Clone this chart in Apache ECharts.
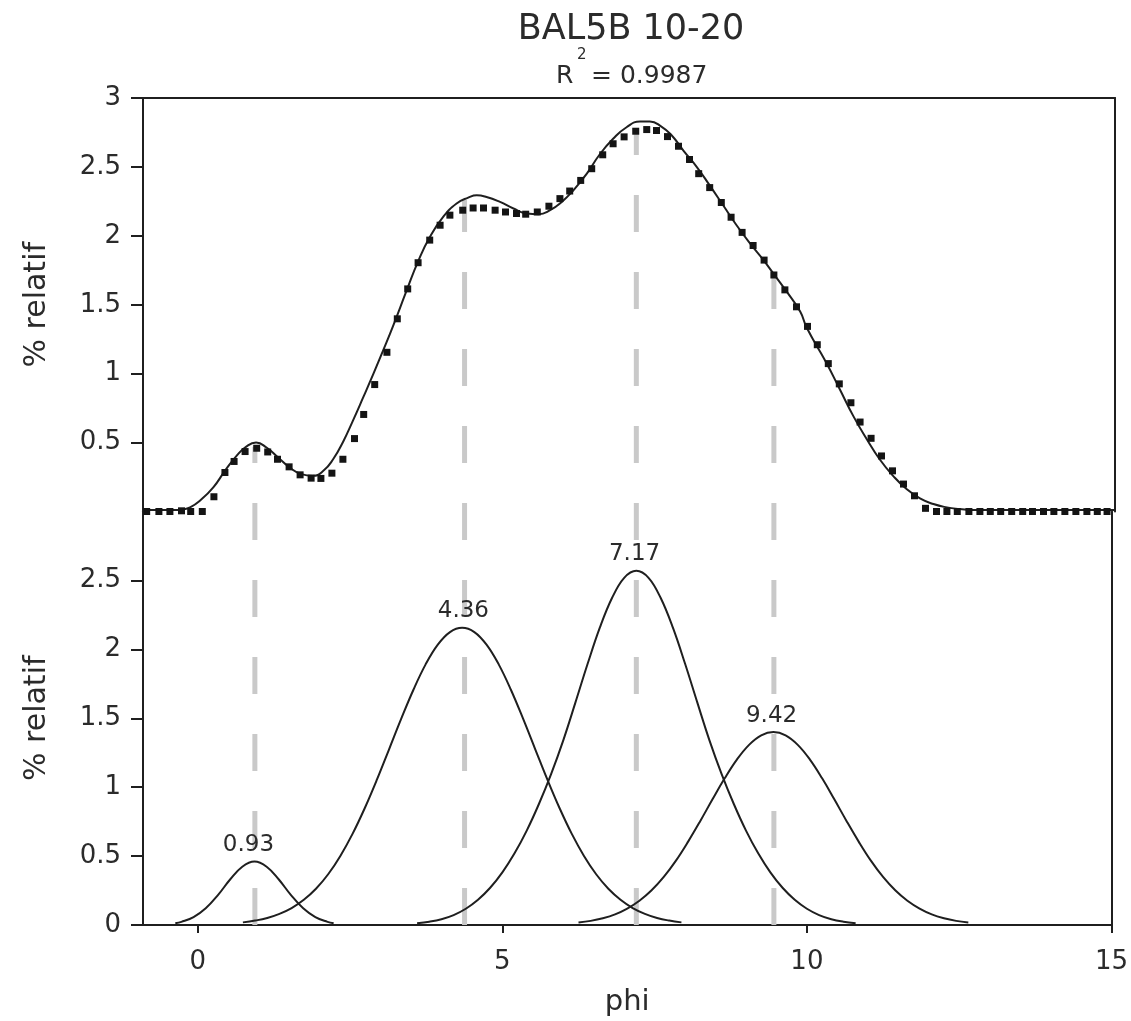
<!DOCTYPE html>
<html>
<head>
<meta charset="utf-8">
<script src="https://cdn.jsdelivr.net/npm/echarts@6/dist/echarts.min.js"></script>
<style>
html,body{margin:0;padding:0;background:#ffffff;}
#chart{width:1131px;height:1021px;}
</style>
</head>
<body>
<div id="chart"></div>
<script>
// ---------------- data ----------------
const chartTitle = 'BAL5B 10-20';
const r2Value = '0.9987';
const xAxisName = 'phi';
const yAxisName = '% relatif';
const xTicks = [0, 5, 10, 15];
const topTicks = [0.5, 1, 1.5, 2, 2.5, 3];
const bottomTicks = [0, 0.5, 1, 1.5, 2, 2.5];

// measured distribution (square markers, top panel)
const measuredX = [-0.84,-0.64,-0.46,-0.27,-0.12,0.07,0.26,0.44,0.59,0.77,0.96,1.14,1.30,1.49,1.67,1.85,2.01,2.19,2.37,2.56,2.71,2.89,3.09,3.26,3.43,3.60,3.79,3.96,4.12,4.33,4.50,4.67,4.86,5.03,5.21,5.36,5.55,5.74,5.92,6.08,6.26,6.44,6.62,6.79,6.97,7.16,7.34,7.50,7.68,7.86,8.04,8.19,8.37,8.56,8.72,8.90,9.08,9.26,9.42,9.60,9.79,9.97,10.13,10.31,10.49,10.68,10.83,11.01,11.18,11.36,11.54,11.72,11.90,12.08,12.25,12.42,12.61,12.79,12.96,13.13,13.31,13.49,13.65,13.83,14.00,14.18,14.36,14.54,14.71,14.87];
const measuredY = [0,0,0,0.005,0,0,0.107,0.283,0.363,0.435,0.459,0.432,0.379,0.324,0.266,0.242,0.240,0.278,0.379,0.529,0.704,0.921,1.155,1.398,1.615,1.805,1.969,2.077,2.150,2.186,2.202,2.202,2.186,2.173,2.162,2.157,2.173,2.215,2.270,2.325,2.402,2.487,2.588,2.668,2.718,2.759,2.771,2.764,2.720,2.650,2.554,2.451,2.350,2.242,2.135,2.025,1.930,1.824,1.716,1.608,1.485,1.343,1.210,1.073,0.926,0.789,0.649,0.531,0.403,0.295,0.199,0.114,0.023,0,0,0,0,0,0,0,0,0,0,0,0,0,0,0,0,0];

// fitted sum curve (top panel)
const fitX = [-0.9,-0.4,-0.25,-0.13,0.03,0.25,0.44,0.63,0.79,0.95,1.12,1.31,1.50,1.69,1.88,2.05,2.21,2.38,2.54,2.70,2.87,3.03,3.19,3.41,3.60,3.79,4.01,4.23,4.42,4.56,4.72,4.94,5.16,5.38,5.57,5.76,5.95,6.14,6.36,6.57,6.79,7.01,7.23,7.39,7.58,7.75,7.94,8.16,8.37,8.59,8.81,9.03,9.25,9.41,9.63,9.85,9.96,10.28,10.50,10.72,10.94,11.15,11.37,11.59,11.81,12.03,12.25,12.46,12.68,15];
const fitY = [0.01,0.01,0.015,0.03,0.078,0.175,0.295,0.403,0.471,0.500,0.464,0.392,0.319,0.271,0.259,0.295,0.379,0.512,0.665,0.826,1.000,1.170,1.345,1.600,1.815,1.990,2.137,2.234,2.277,2.294,2.282,2.246,2.198,2.162,2.157,2.186,2.246,2.330,2.451,2.590,2.704,2.788,2.829,2.829,2.793,2.728,2.619,2.499,2.366,2.222,2.077,1.945,1.824,1.728,1.595,1.451,1.331,1.078,0.885,0.692,0.524,0.379,0.259,0.163,0.095,0.054,0.030,0.018,0.010,0.01];

// decomposed components (bottom panel)
const comp1X = [-0.37,-0.27,-0.07,0.13,0.33,0.53,0.73,0.93,1.13,1.33,1.53,1.73,1.93,2.13,2.23];
const comp1Y = [0.012,0.023,0.057,0.121,0.217,0.330,0.423,0.460,0.423,0.330,0.217,0.121,0.057,0.023,0.012];
const comp2X = [0.74,0.94,1.14,1.34,1.54,1.74,1.94,2.14,2.34,2.54,2.74,2.94,3.14,3.34,3.54,3.74,3.94,4.14,4.34,4.54,4.74,4.94,5.14,5.34,5.54,5.74,5.94,6.14,6.34,6.54,6.74,6.94,7.14,7.34,7.54,7.74,7.94];
const comp2Y = [0.019,0.032,0.051,0.081,0.123,0.183,0.263,0.368,0.501,0.661,0.847,1.054,1.275,1.497,1.707,1.891,2.034,2.125,2.156,2.125,2.034,1.891,1.707,1.497,1.275,1.054,0.847,0.661,0.501,0.368,0.263,0.183,0.123,0.081,0.051,0.032,0.019];
const comp3X = [3.6,3.8,4.0,4.2,4.4,4.6,4.8,5.0,5.2,5.4,5.6,5.8,6.0,6.2,6.4,6.6,6.8,7.0,7.2,7.4,7.6,7.8,8.0,8.2,8.4,8.6,8.8,9.0,9.2,9.4,9.6,9.8,10.0,10.2,10.4,10.6,10.8];
const comp3Y = [0.013,0.024,0.042,0.072,0.118,0.183,0.270,0.382,0.520,0.685,0.878,1.095,1.340,1.615,1.895,2.157,2.372,2.519,2.570,2.519,2.372,2.157,1.895,1.615,1.340,1.095,0.878,0.685,0.520,0.382,0.270,0.183,0.118,0.072,0.042,0.024,0.013];
const comp4X = [6.25,6.45,6.65,6.85,7.05,7.25,7.45,7.65,7.85,8.05,8.25,8.45,8.65,8.85,9.05,9.25,9.45,9.65,9.85,10.05,10.25,10.45,10.65,10.85,11.05,11.25,11.45,11.65,11.85,12.05,12.25,12.45,12.65];
const comp4Y = [0.018,0.030,0.049,0.077,0.119,0.176,0.252,0.349,0.467,0.605,0.755,0.912,1.064,1.200,1.307,1.376,1.400,1.376,1.307,1.200,1.064,0.912,0.755,0.605,0.467,0.349,0.252,0.176,0.119,0.077,0.049,0.030,0.018];

// component modes, their peak heights, and top end of the marker lines (value in top panel)
const peakCenters = [0.93, 4.36, 7.17, 9.42];
const peakHeights = [0.46, 2.156, 2.57, 1.40];
const peakTopValues = [0.47, 2.26, 2.78, 1.73];

// ---------------- chart ----------------
const FONT = 'DejaVu Sans';
const INK = '#1f1f1f';
const TXT = '#2b2b2b';
const pairs = (xs, ys) => xs.map((x, i) => [x, ys[i]]);

const chart = echarts.init(document.getElementById('chart'), null, {renderer: 'canvas'});

const gridL = 143, gridR = 16, gridTop = 98, gridMid = 511.5, gridBot = 925;

const hiddenAxisBits = {axisTick: {show: false}, axisLabel: {show: false}, splitLine: {show: false}};
const frameLine = {show: true, onZero: false, lineStyle: {color: INK, width: 2}};

const components = [[comp1X, comp1Y], [comp2X, comp2Y], [comp3X, comp3Y], [comp4X, comp4Y]];

const series = [];
// marker lines spanning both panels (overlay grid: 0..3 bottom panel, 3..6 top panel)
peakCenters.forEach((c, i) => {
  series.push({
    type: 'line', xAxisIndex: 2, yAxisIndex: 4, silent: true, z: 1,
    symbol: 'none',
    data: [[c, 0], [c, 3 + peakTopValues[i]]],
    lineStyle: {color: '#c9c9c9', width: 5, type: [37, 40], cap: 'butt'}
  });
});
series.push({
  type: 'line', xAxisIndex: 0, yAxisIndex: 0, z: 3, symbol: 'none', smooth: 0.5,
  data: pairs(fitX, fitY), lineStyle: {color: INK, width: 2}
});
series.push({
  type: 'scatter', xAxisIndex: 0, yAxisIndex: 0, z: 4, symbol: 'rect', symbolSize: 7,
  data: pairs(measuredX, measuredY), itemStyle: {color: '#141414', opacity: 1}
});
components.forEach(([xs, ys]) => {
  series.push({
    type: 'line', xAxisIndex: 1, yAxisIndex: 2, z: 3, symbol: 'none', smooth: 0.4,
    data: pairs(xs, ys), lineStyle: {color: INK, width: 2}
  });
});
series.push({
  type: 'scatter', xAxisIndex: 1, yAxisIndex: 2, z: 5, symbolSize: 0, silent: true,
  itemStyle: {opacity: 1},
  data: peakCenters.map((c, i) => ({
    value: [c, peakHeights[i]],
    label: i === 0 ? {offset: [-6, 0]} : undefined
  })),
  label: {
    show: true, position: 'top', distance: 5,
    formatter: p => p.value[0].toFixed(2),
    fontFamily: FONT, fontSize: 23, color: TXT
  }
});

const option = {
  backgroundColor: '#ffffff',
  animation: false,
  textStyle: {fontFamily: FONT},
  title: [
    {text: chartTitle, left: 631, top: 12, textAlign: 'center', padding: 0,
     textStyle: {fontFamily: FONT, fontSize: 35, fontWeight: 'normal', color: TXT}},
    {text: 'R', left: 556, top: 64, padding: 0,
     textStyle: {fontFamily: FONT, fontSize: 25, fontWeight: 'normal', color: TXT}},
    {text: '2', left: 577, top: 48, padding: 0,
     textStyle: {fontFamily: FONT, fontSize: 15, fontWeight: 'normal', color: TXT}},
    {text: '= ' + r2Value, left: 591, top: 64, padding: 0,
     textStyle: {fontFamily: FONT, fontSize: 25, fontWeight: 'normal', color: TXT}}
  ],
  grid: [
    {left: gridL, right: gridR, top: gridTop, height: gridMid - gridTop},
    {left: gridL, right: gridR, top: gridMid, height: gridBot - gridMid},
    {left: gridL, right: gridR, top: gridTop, height: gridBot - gridTop}
  ],
  xAxis: [
    {gridIndex: 0, type: 'value', min: -0.9, max: 15, position: 'top',
     axisLine: frameLine, ...hiddenAxisBits},
    {gridIndex: 1, type: 'value', min: -0.9, max: 15, position: 'bottom',
     axisLine: frameLine,
     axisTick: {show: true, inside: false, length: 8, customValues: xTicks, lineStyle: {color: INK, width: 2}},
     axisLabel: {show: true, customValues: xTicks, margin: 24, fontFamily: FONT, fontSize: 26, color: TXT},
     splitLine: {show: false},
     name: xAxisName, nameLocation: 'middle', nameGap: 63,
     nameTextStyle: {fontFamily: FONT, fontSize: 29, color: TXT}},
    {gridIndex: 2, type: 'value', min: -0.9, max: 15, show: false}
  ],
  yAxis: [
    {gridIndex: 0, type: 'value', min: 0, max: 3, position: 'left',
     axisLine: frameLine,
     axisTick: {show: true, inside: false, length: 12, customValues: topTicks, lineStyle: {color: INK, width: 2}},
     axisLabel: {show: true, customValues: topTicks, margin: 22, fontFamily: FONT, fontSize: 26, color: TXT},
     splitLine: {show: false},
     name: yAxisName, nameLocation: 'middle', nameGap: 91, nameRotate: 90,
     nameTextStyle: {fontFamily: FONT, fontSize: 30, color: TXT}},
    {gridIndex: 0, type: 'value', min: 0, max: 3, position: 'right',
     axisLine: frameLine, ...hiddenAxisBits},
    {gridIndex: 1, type: 'value', min: 0, max: 3, position: 'left',
     axisLine: frameLine,
     axisTick: {show: true, inside: false, length: 12, customValues: bottomTicks, lineStyle: {color: INK, width: 2}},
     axisLabel: {show: true, customValues: bottomTicks, margin: 22, fontFamily: FONT, fontSize: 26, color: TXT},
     splitLine: {show: false},
     name: yAxisName, nameLocation: 'middle', nameGap: 91, nameRotate: 90,
     nameTextStyle: {fontFamily: FONT, fontSize: 30, color: TXT}},
    {gridIndex: 1, type: 'value', min: 0, max: 3, position: 'right',
     axisLine: frameLine, ...hiddenAxisBits},
    {gridIndex: 2, type: 'value', min: 0, max: 6, show: false}
  ],
  series: series
};
chart.setOption(option);
</script>
</body>
</html>
